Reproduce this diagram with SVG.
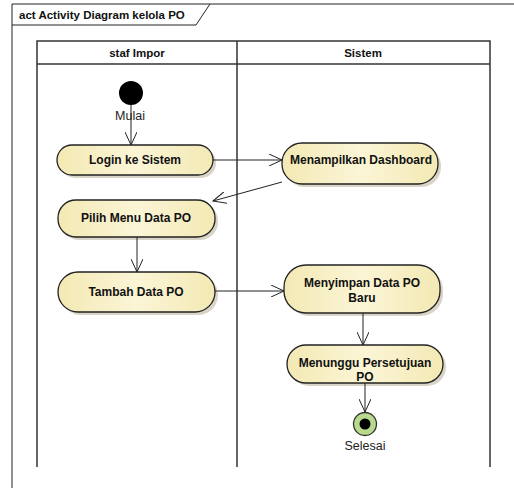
<svg xmlns="http://www.w3.org/2000/svg" width="514" height="488" viewBox="0 0 514 488">
<defs>
<linearGradient id="nodeFill" x1="0" y1="0" x2="1" y2="0">
<stop offset="0" stop-color="#f3e9b4"/>
<stop offset="0.5" stop-color="#fbf5d6"/>
<stop offset="1" stop-color="#f3e9b4"/>
</linearGradient>
<marker id="open" viewBox="0 0 14 12" refX="13" refY="6" markerWidth="14" markerHeight="12" markerUnits="userSpaceOnUse" orient="auto">
<path d="M0,0 L13,6 L0,12" fill="none" stroke="#222" stroke-width="1"/>
</marker>
</defs>
<style>
.frame{fill:none;stroke:#222;stroke-width:1}
.lane{fill:none;stroke:#333;stroke-width:1.5}
.act{fill:url(#nodeFill);stroke:#222;stroke-width:1.3}
.shadow{fill:#d9d4c8}
.lbl{font-family:"Liberation Sans",Arial,sans-serif;font-size:12px;font-weight:bold;fill:#111;text-anchor:middle}
.hdr{font-family:"Liberation Sans",Arial,sans-serif;font-size:11.5px;font-weight:bold;fill:#111;text-anchor:middle}
.plain{font-family:"Liberation Sans",Arial,sans-serif;font-size:12.5px;fill:#222;text-anchor:middle}
.edge{fill:none;stroke:#222;stroke-width:1;marker-end:url(#open)}
</style>
<rect width="514" height="488" fill="#fff"/>
<g id="frame">
<path class="frame" d="M12,488 L12,4 L514,4"/>
<path class="frame" d="M12,25 L196,25 L210,4"/>
<text x="19" y="19" font-family="Liberation Sans,Arial,sans-serif" font-size="11.5" font-weight="bold" fill="#111">act Activity Diagram kelola PO</text>
</g>
<g id="lanes">
<path class="lane" d="M37,467 L37,41 L490,41 L490,467"/>
<path class="lane" d="M237,41 L237,467"/>
<path class="lane" d="M37,64 L490,64"/>
<text class="hdr" x="137" y="57">staf Impor</text>
<text class="hdr" x="363" y="57">Sistem</text>
</g>
<g id="start">
<circle cx="131" cy="93" r="12" fill="#000"/>
<text class="plain" x="130" y="120">Mulai</text>
</g>
<g id="login">
<rect class="shadow" x="60" y="148" width="156" height="30" rx="15"/>
<rect class="act" x="57" y="145" width="156" height="30" rx="15"/>
<text class="lbl" x="135" y="164">Login ke Sistem</text>
</g>
<g id="dashboard">
<rect class="shadow" x="285" y="146" width="156" height="41" rx="20"/>
<rect class="act" x="282" y="143" width="156" height="41" rx="20"/>
<text class="lbl" x="361" y="164">Menampilkan Dashboard</text>
</g>
<g id="pilih">
<rect class="shadow" x="61" y="203" width="157" height="37" rx="18"/>
<rect class="act" x="58" y="200" width="157" height="37" rx="18"/>
<text class="lbl" x="136" y="222">Pilih Menu Data PO</text>
</g>
<g id="tambah">
<rect class="shadow" x="61" y="275" width="157" height="40" rx="20"/>
<rect class="act" x="58" y="272" width="157" height="40" rx="20"/>
<text class="lbl" x="136" y="296">Tambah Data PO</text>
</g>
<g id="menyimpan">
<rect class="shadow" x="287" y="268" width="156" height="48" rx="22"/>
<rect class="act" x="284" y="265" width="156" height="48" rx="22"/>
<text class="lbl" x="362" y="287">Menyimpan Data PO</text>
<text class="lbl" x="362" y="302">Baru</text>
</g>
<g id="menunggu">
<rect class="shadow" x="290" y="348" width="156" height="38" rx="19"/>
<rect class="act" x="287" y="345" width="156" height="38" rx="19"/>
<text class="lbl" x="365" y="367">Menunggu Persetujuan</text>
<text class="lbl" x="365" y="381">PO</text>
</g>
<g id="selesai">
<circle cx="365" cy="424" r="11.5" fill="#b9d98e" stroke="#333" stroke-width="1.3"/>
<circle cx="365" cy="424" r="5.5" fill="#000"/>
<text class="plain" x="365" y="450">Selesai</text>
</g>
<g id="connectors">
<path class="edge" d="M131,105 L131,145"/>
<path class="edge" d="M213,160 L282,160"/>
<path class="edge" d="M282,182 L213,201"/>
<path class="edge" d="M137,237 L137,272"/>
<path class="edge" d="M215,291 L284,291"/>
<path class="edge" d="M363,313 L363,345"/>
<path class="edge" d="M365,383 L365,412"/>
</g>
</svg>
